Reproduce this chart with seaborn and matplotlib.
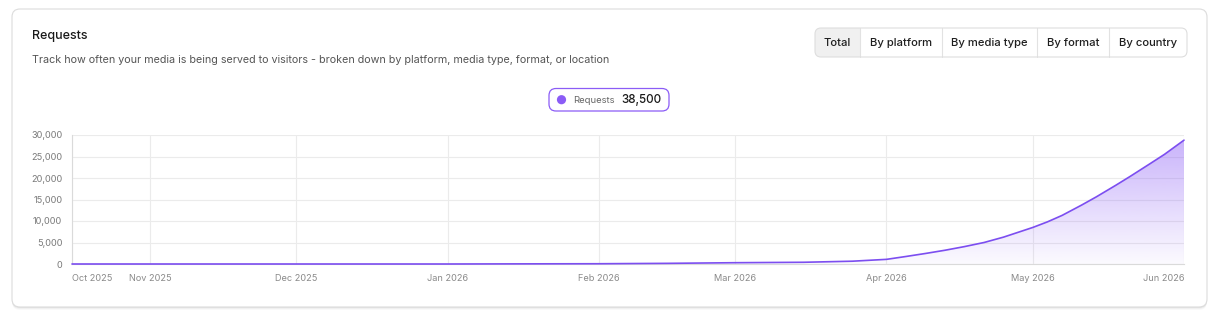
import numpy as np
import pandas as pd
import matplotlib
matplotlib.use("Agg")
import matplotlib.pyplot as plt
import matplotlib.dates as mdates
from matplotlib.patches import FancyBboxPatch, Circle, Rectangle
from matplotlib.ticker import FuncFormatter
import seaborn as sns

# ---------------- data ----------------
dates = ["2025-10-16", "2025-11-01", "2025-12-01", "2026-01-01", "2026-01-15",
         "2026-02-01", "2026-02-15", "2026-03-01", "2026-03-15", "2026-03-25",
         "2026-04-01", "2026-04-05", "2026-04-09", "2026-04-13", "2026-04-17",
         "2026-04-21", "2026-04-25", "2026-05-01", "2026-05-04", "2026-05-07",
         "2026-05-11", "2026-05-14", "2026-05-18", "2026-05-21", "2026-05-25",
         "2026-05-28", "2026-06-01"]
requests = [0, 0, 0, 0, 30,
            60, 150, 300, 400, 650,
            1080, 1750, 2450, 3200, 4050,
            5000, 6250, 8500, 9800, 11300,
            13700, 15600, 18300, 20400, 23300,
            25500, 28800]

tick_dates = ["2025-10-16", "2025-11-01", "2025-12-01", "2026-01-01", "2026-02-01",
              "2026-03-01", "2026-04-01", "2026-05-01", "2026-06-01"]
tick_labels = ["Oct 2025", "Nov 2025", "Dec 2025", "Jan 2026", "Feb 2026",
               "Mar 2026", "Apr 2026", "May 2026", "Jun 2026"]
y_ticks = [0, 5000, 10000, 15000, 20000, 25000, 30000]

title = "Requests"
subtitle = "Track how often your media is being served to visitors - broken down by platform, media type, format, or location"
buttons = ["Total", "By platform", "By media type", "By format", "By country"]
legend_label = "Requests"
legend_total = "38,500"

# ---------------- style ----------------
sns.set_theme(style="white")
plt.rcParams["font.family"] = ["Inter", "DejaVu Sans"]

VIOLET = "#8b5cf6"
LINE = "#7c4ef0"

fig = plt.figure(figsize=(12.2, 3.22), dpi=100)
fig.patch.set_facecolor("white")

# background / card layer in pixel coordinates
bg = fig.add_axes([0, 0, 1, 1])
bg.set_xlim(0, 1220)
bg.set_ylim(322, 0)
bg.axis("off")

for off, a in [(3, 0.025), (2, 0.035), (1, 0.05)]:
    bg.add_patch(FancyBboxPatch((12, 9 + off), 1195, 298, boxstyle="round,pad=0,rounding_size=8",
                                fc=(0, 0, 0, a), ec="none", zorder=0))
bg.add_patch(FancyBboxPatch((12, 9), 1195, 298, boxstyle="round,pad=0,rounding_size=8",
                            fc="white", ec="#dcdcdc", lw=0.8, zorder=1))

bg.text(32, 36, title, fontsize=9.0, color="#1a1a1a", va="center", ha="left",
        fontweight="medium", zorder=3)
bg.text(32, 60, subtitle, fontsize=7.75, color="#555555", va="center", ha="left", zorder=3)

# segmented buttons
edges = [815, 860, 942, 1037, 1109, 1187]
by0, bh = 28, 29
bg.add_patch(FancyBboxPatch((edges[0], by0), edges[-1] - edges[0], bh,
                            boxstyle="round,pad=0,rounding_size=6", fc="white", ec="none", zorder=2))
bg.add_patch(FancyBboxPatch((edges[0], by0), edges[1] - edges[0], bh,
                            boxstyle="round,pad=0,rounding_size=6", fc="#f0f0f0", ec="none", zorder=2))
bg.add_patch(Rectangle((edges[1] - 10, by0), 10, bh, fc="#f0f0f0", ec="none", zorder=2))
for xe in edges[1:-1]:
    bg.plot([xe, xe], [by0, by0 + bh], color="#e2e2e2", lw=0.8, zorder=3)
bg.add_patch(FancyBboxPatch((edges[0], by0), edges[-1] - edges[0], bh,
                            boxstyle="round,pad=0,rounding_size=6", fc="none", ec="#dedede",
                            lw=0.8, zorder=4))
for i, lab in enumerate(buttons):
    bg.text((edges[i] + edges[i + 1]) / 2, by0 + bh / 2, lab, fontsize=8.1, color="#1f1f1f",
            ha="center", va="center", fontweight="medium", zorder=5)

# legend pill
bg.add_patch(FancyBboxPatch((549, 88.5), 120, 22.5, boxstyle="round,pad=0,rounding_size=7",
                            fc="white", ec=VIOLET, lw=0.9, zorder=3))
bg.add_patch(Circle((561.5, 99.7), 4.6, fc=VIOLET, ec="none", zorder=4))
bg.text(573, 100, legend_label, fontsize=6.8, color="#666666", ha="left", va="center", zorder=4)
bg.text(621, 99.7, legend_total, fontsize=8.4, color="#1a1a1a", ha="left", va="center",
        fontweight="medium", zorder=4)

# ---------------- chart ----------------
ax = fig.add_axes([72 / 1220, (322 - 264) / 322, 1112 / 1220, 129 / 322])
ax.patch.set_alpha(0)

df = pd.DataFrame({"date": pd.to_datetime(dates), "requests": requests})
xnum = mdates.date2num(df["date"])

# gradient fill under the line
poly = ax.fill_between(xnum, 0, df["requests"], facecolor="none", edgecolor="none")
grad = np.zeros((256, 1, 4))
grad[:, 0, 0] = 139 / 255
grad[:, 0, 1] = 92 / 255
grad[:, 0, 2] = 246 / 255
grad[:, 0, 3] = np.linspace(0.03, 0.48, 256)
im = ax.imshow(grad, extent=[xnum[0], xnum[-1], 0, 30000], origin="lower",
               aspect="auto", zorder=1, interpolation="bilinear")
im.set_clip_path(poly.get_paths()[0], transform=ax.transData)

sns.lineplot(x=xnum, y=df["requests"], ax=ax, color=LINE, lw=1.2, zorder=3, clip_on=False)

ax.set_xlim(xnum[0], xnum[-1])
ax.set_ylim(0, 30000)
ax.set_xlabel("")
ax.set_ylabel("")

ax.set_xticks(mdates.date2num(pd.to_datetime(tick_dates)))
ax.set_xticklabels(tick_labels)
ax.set_yticks(y_ticks)
ax.yaxis.set_major_formatter(FuncFormatter(lambda v, p: f"{int(v):,}"))

ax.tick_params(axis="x", length=4, width=0.8, color="#e6e6e6", labelsize=6.6,
               labelcolor="#8a8a8a", pad=3)
ax.tick_params(axis="y", length=4, width=0.8, color="#e6e6e6", labelsize=6.6,
               labelcolor="#7a7a7a", pad=3)
xl = ax.get_xticklabels()
xl[0].set_ha("left")
xl[-1].set_ha("right")

ax.grid(True, color="#ebebeb", lw=0.8)
ax.set_axisbelow(True)
for s in ["top", "right"]:
    ax.spines[s].set_visible(False)
for s in ["left", "bottom"]:
    ax.spines[s].set_color("#dadada")
    ax.spines[s].set_linewidth(0.8)

fig.savefig("out.png", dpi=100, facecolor="white")
